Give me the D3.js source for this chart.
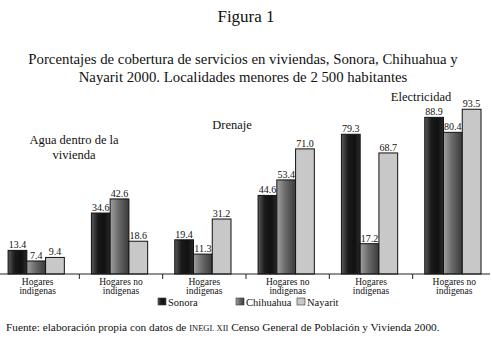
<!DOCTYPE html>
<html>
<head>
<meta charset="utf-8">
<script src="https://cdn.jsdelivr.net/npm/d3@7"></script>
<style>
  body { margin: 0; background: #fff; }
  text { font-family: "Liberation Serif", "DejaVu Serif", serif; fill: #111; }
</style>
</head>
<body>
<script>
var groups = ["Agua-ind", "Agua-noind", "Drenaje-ind", "Drenaje-noind", "Elec-ind", "Elec-noind"];
var groupLabels = [["Hogares", "indigenas"], ["Hogares no", "indigenas"], ["Hogares", "indigenas"],
                   ["Hogares no", "indigenas"], ["Hogares", "indigenas"], ["Hogares no", "indigenas"]];
var series = ["Sonora", "Chihuahua", "Nayarit"];
var sonora    = [13.4, 34.6, 19.4, 44.6, 79.3, 88.9];
var chihuahua = [7.4, 42.6, 11.3, 53.4, 17.2, 80.4];
var nayarit   = [9.4, 18.6, 31.2, 71.0, 68.7, 93.5];
var services = ["Agua dentro de la|vivienda", "Drenaje", "Electricidad"];

var W = 492, H = 342;
var svg = d3.select("body").append("svg")
    .attr("width", W).attr("height", H);

// gradients for the bars
var defs = svg.append("defs");
function grad(id, stops) {
    var g = defs.append("linearGradient").attr("id", id)
        .attr("x1", "0%").attr("x2", "100%").attr("y1", "0%").attr("y2", "0%");
    stops.forEach(function(s) {
        g.append("stop").attr("offset", s[0]).attr("stop-color", s[1]);
    });
}
grad("gSon", [["0%", "#5a5a5a"], ["35%", "#1a1a1a"], ["70%", "#111"], ["100%", "#2a2a2a"]]);
grad("gChi", [["0%", "#a0a0a0"], ["45%", "#6a6a6a"], ["100%", "#3a3a3a"]]);
var fills = {Sonora: "url(#gSon)", Chihuahua: "url(#gChi)", Nayarit: "#c8c8c8"};

var data = groups.map(function(g, i) {
    return {group: g, values: [sonora[i], chihuahua[i], nayarit[i]]};
});

var x0 = d3.scaleBand().domain(groups).range([-4, 496]).paddingInner(0);
var bw = x0.bandwidth();
var x1 = d3.scaleBand().domain(series).range([bw * 0.145, bw * 0.82]).padding(0);
var y = d3.scaleLinear().domain([0, 100]).range([274, 97.8]);

// titles
svg.append("text").attr("x", 246).attr("y", 22).attr("text-anchor", "middle")
    .style("font-size", "17px").text("Figura 1");
svg.append("text").attr("x", 243).attr("y", 64).attr("text-anchor", "middle")
    .style("font-size", "14.8px")
    .text("Porcentajes de cobertura de servicios en viviendas, Sonora, Chihuahua y");
svg.append("text").attr("x", 243).attr("y", 82).attr("text-anchor", "middle")
    .style("font-size", "14.8px")
    .text("Nayarit 2000. Localidades menores de 2 500 habitantes");

// bars
var gr = svg.selectAll("g.grp").data(data).enter().append("g")
    .attr("class", "grp")
    .attr("transform", function(d) { return "translate(" + x0(d.group) + ",0)"; });

gr.selectAll("rect").data(function(d) {
        return d.values.map(function(v, i) { return {s: series[i], v: v}; });
    })
    .enter().append("rect")
    .attr("x", function(d) { return x1(d.s); })
    .attr("y", function(d) { return y(d.v); })
    .attr("width", x1.bandwidth())
    .attr("height", function(d) { return y(0) - y(d.v); })
    .attr("fill", function(d) { return fills[d.s]; })
    .attr("stroke", "#111").attr("stroke-width", 1);

gr.selectAll("text.val").data(function(d) {
        return d.values.map(function(v, i) { return {s: series[i], v: v}; });
    })
    .enter().append("text").attr("class", "val")
    .attr("x", function(d) { return x1(d.s) + x1.bandwidth() / 2; })
    .attr("y", function(d) { return y(d.v) - 2; })
    .attr("text-anchor", "middle")
    .style("font-size", "10px")
    .text(function(d) { return d.v.toFixed(1); });

// axis
var xAxis = svg.append("g").attr("transform", "translate(0," + y(0) + ")");
xAxis.append("line").attr("x1", 0).attr("x2", 490).attr("stroke", "#222");
xAxis.selectAll("line.tick").data(groups.slice(1)).enter().append("line")
    .attr("class", "tick")
    .attr("x1", function(d) { return x0(d); }).attr("x2", function(d) { return x0(d); })
    .attr("y1", 0).attr("y2", 5).attr("stroke", "#222");

groups.forEach(function(g, i) {
    var t = svg.append("text").attr("text-anchor", "middle")
        .attr("x", x0(g) + bw / 2).attr("y", 285)
        .style("font-size", "9.5px");
    groupLabels[i].forEach(function(l, k) {
        t.append("tspan").attr("x", x0(g) + bw / 2).attr("dy", k ? 8.5 : 0).text(l);
    });
});

// service annotations
var svcPos = [[74, 144], [232, 129], [421, 101]];
services.forEach(function(s, i) {
    var t = svg.append("text").attr("text-anchor", "middle")
        .attr("x", svcPos[i][0]).attr("y", svcPos[i][1])
        .style("font-size", "12.5px");
    s.split("|").forEach(function(l, k) {
        t.append("tspan").attr("x", svcPos[i][0]).attr("dy", k ? 15 : 0).text(l);
    });
});

// legend
var legX = [158, 236, 297];
series.forEach(function(s, i) {
    svg.append("rect").attr("x", legX[i]).attr("y", 298).attr("width", 8).attr("height", 7)
        .attr("fill", fills[s]).attr("stroke", "#333").attr("stroke-width", 0.6);
    svg.append("text").attr("x", legX[i] + 10).attr("y", 305.5)
        .style("font-size", "10.5px").text(s);
});

// source
var src = svg.append("text").attr("x", 6).attr("y", 331).style("font-size", "11.3px");
src.append("tspan").text("Fuente: elaboración propia con datos de ");
src.append("tspan").style("font-size", "8.5px").text("INEGI. XII");
src.append("tspan").text(" Censo General de Población y Vivienda 2000.");
</script>
</body>
</html>
